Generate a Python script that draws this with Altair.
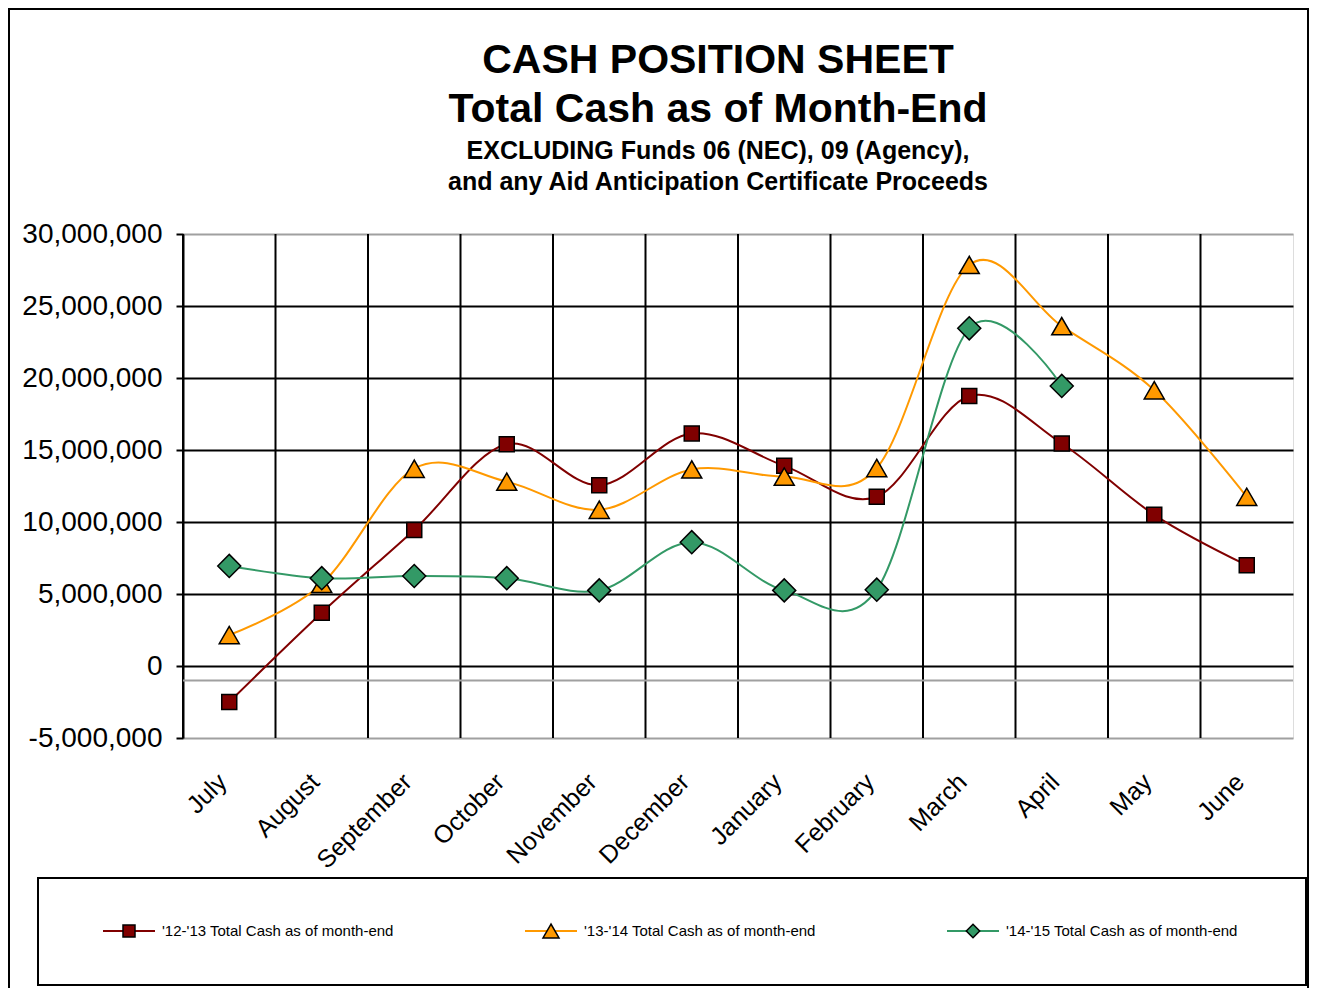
import altair as alt
import pandas as pd

months = ["July", "August", "September", "October", "November", "December",
          "January", "February", "March", "April", "May", "June"]

series_names = ["'12-'13 Total Cash as of month-end",
                "'13-'14 Total Cash as of month-end",
                "'14-'15 Total Cash as of month-end"]

cash_1213 = [-2500000, 3700000, 9450000, 15400000, 12550000, 16150000,
             13900000, 11750000, 18750000, 15450000, 10500000, 7000000]
cash_1314 = [2150000, 5700000, 13700000, 12800000, 10850000, 13650000,
             13150000, 13750000, 27850000, 23600000, 19150000, 11750000]
cash_1415 = [6950000, 6100000, 6250000, 6100000, 5250000, 8600000,
             5250000, 5300000, 23450000, 19450000, None, None]

y_ticks = [-5000000, 0, 5000000, 10000000, 15000000, 20000000, 25000000, 30000000]
axis_crossing = -1000000

title_lines = ["CASH POSITION SHEET", "Total Cash as of Month-End"]
subtitle_lines = ["EXCLUDING Funds 06 (NEC), 09 (Agency),",
                  "and any Aid Anticipation Certificate Proceeds"]

colors = ["#800000", "#FF9900", "#339966"]
shapes = ["square", "triangle-up", "diamond"]
sizes = [225, 400, 529]
legend_sizes = [144, 256, 180]

W, H = 1110, 504
FONT = "Liberation Sans"

x_scale = alt.Scale(type="band", domain=months, paddingInner=0, paddingOuter=0)
y_scale = alt.Scale(domain=[-5000000, 30000000], nice=False, zero=False)

x_axis = alt.Axis(title=None, labelAngle=-45, labelAlign="right",
                  labelBaseline="top", labelFontSize=25, labelFont=FONT,
                  labelColor="black", labelPadding=31, labelOffset=-15,
                  domain=False, ticks=False, grid=False, labelOverlap=False)
y_axis = alt.Axis(title=None, values=y_ticks,
                  labelExpr="replace(format(datum.value, ','), '\u2212', '-')",
                  labelFontSize=28, labelFont=FONT, labelColor="black",
                  labelPadding=14, tickSize=7, tickColor="black",
                  tickWidth=2, domainColor="black", domainWidth=2,
                  grid=True, gridOpacity=1, gridWidth=2,
                  gridColor={"condition": {"test": "datum.value === 30000000 || datum.value === -5000000",
                                           "value": "#a0a0a0"},
                             "value": "black"})

x_enc = alt.X("month:N", scale=x_scale, sort=months, axis=x_axis)
y_enc = alt.Y("value:Q", scale=y_scale, axis=y_axis)

months_df = pd.DataFrame({"month": months})

grid_v = alt.Chart(months_df).mark_rule(color="black", strokeWidth=2).encode(
    x=alt.X("month:N", scale=x_scale, sort=months, bandPosition=0, axis=x_axis)
)

cross = alt.Chart(pd.DataFrame({"value": [axis_crossing]})).mark_rule(
    color="#a0a0a0", strokeWidth=2).encode(y=y_enc)

layers = [grid_v, cross]
all_vals = [cash_1213, cash_1314, cash_1415]
for i, vals in enumerate(all_vals):
    df = pd.DataFrame({"month": months, "value": vals}).dropna()
    base = alt.Chart(df)
    line = base.mark_line(color=colors[i], strokeWidth=2, interpolate="cardinal").encode(
        x=x_enc, y=y_enc)
    pts = base.mark_point(filled=True, fill=colors[i], shape=shapes[i], size=sizes[i],
                          stroke="black", strokeWidth=1.5, opacity=1).encode(
        x=x_enc, y=y_enc)
    layers += [line, pts]

# legend
legend_x = alt.Scale(type="point", domain=series_names, range=[-54, 790], padding=0)
leg_layers = []
for i, name in enumerate(series_names):
    ldf = pd.DataFrame({"series": [name]})
    lb = alt.Chart(ldf)
    lx = alt.X("series:N", scale=legend_x, axis=None)
    leg_layers.append(lb.mark_point(shape="stroke", size=2704, stroke=colors[i],
                                    strokeWidth=2, opacity=1).encode(x=lx, y=alt.value(697)))
    leg_layers.append(lb.mark_point(shape=shapes[i], size=legend_sizes[i], filled=True,
                                    fill=colors[i], stroke="black", strokeWidth=1.5,
                                    opacity=1).encode(x=lx, y=alt.value(697)))
    leg_layers.append(lb.mark_text(align="left", baseline="middle", dx=33, fontSize=15,
                                   font=FONT, color="black").encode(
        x=lx, y=alt.value(697), text="series:N"))

one = pd.DataFrame({"a": [0]})
frame = alt.Chart(one).mark_rect(fillOpacity=0, stroke="black", strokeWidth=2).encode(
    x=alt.value(-174), x2=alt.value(1125), y=alt.value(-225), y2=alt.value(760))
legend_box = alt.Chart(one).mark_rect(fillOpacity=0, stroke="black", strokeWidth=2).encode(
    x=alt.value(-145), x2=alt.value(1123), y=alt.value(644), y2=alt.value(751))

# titles as text
title_layers = []
title_specs = [(title_lines[0], 41, -161), (title_lines[1], 41, -112),
               (subtitle_lines[0], 25, -75), (subtitle_lines[1], 25, -44)]
for txt, fs, yy in title_specs:
    title_layers.append(alt.Chart(one).mark_text(
        text=txt, font=FONT, fontSize=fs, fontWeight="bold", color="black",
        align="center", baseline="alphabetic").encode(x=alt.value(535), y=alt.value(yy)))

main = alt.layer(*layers)
legend = alt.layer(legend_box, *leg_layers)

chart = alt.layer(frame, *title_layers, main, legend).resolve_scale(x="independent").properties(
    width=W, height=H,
    autosize=alt.AutoSizeParams(type="none"),
    padding={"left": 175, "top": 226, "right": 16, "bottom": 250},
).configure_view(stroke="#a0a0a0", strokeWidth=2).configure(background="white")

chart.save("out.html", embed_options={"renderer": "svg", "actions": False})
